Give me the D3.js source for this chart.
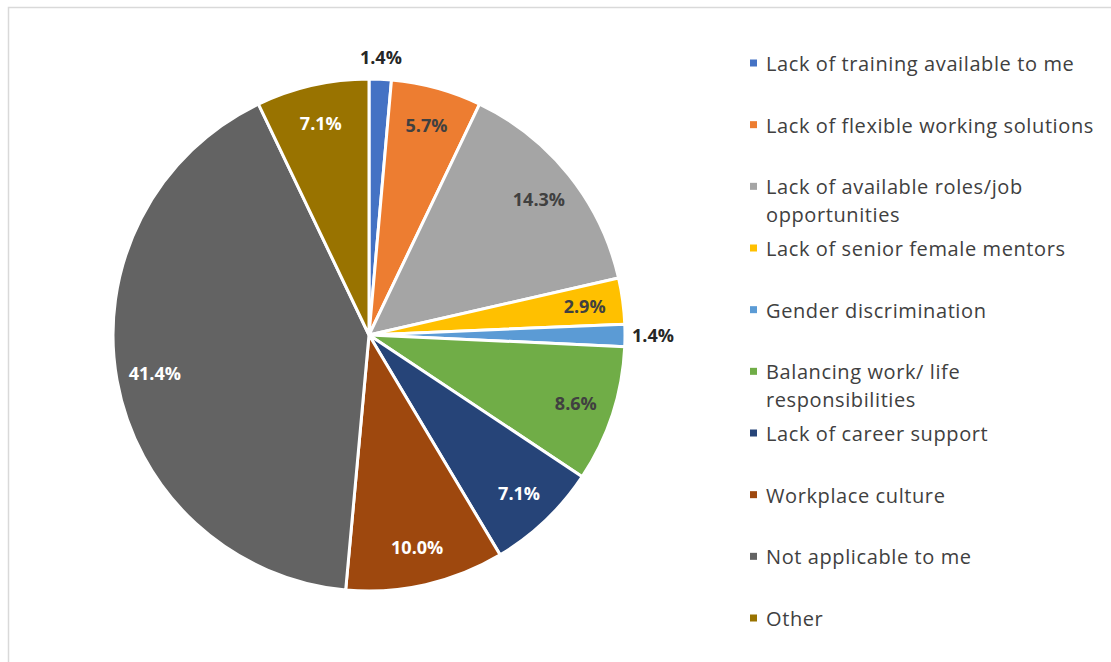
<!DOCTYPE html>
<meta charset="utf-8">
<style>
body { margin: 0; background: #fff; }
text { font-family: "Open Sans", Lato, sans-serif; }
</style>
<svg width="1111" height="662"></svg>
<script src="https://d3js.org/d3.v7.min.js"></script>
<script>

var categories = ["Lack of training available to me", "Lack of flexible working solutions",
  "Lack of available roles/job opportunities", "Lack of senior female mentors",
  "Gender discrimination", "Balancing work/ life responsibilities", "Lack of career support",
  "Workplace culture", "Not applicable to me", "Other"];
// legend lines (wrapped as in the original)
var legendLines = [["Lack of training available to me"], ["Lack of flexible working solutions"],
  ["Lack of available roles/job", "opportunities"], ["Lack of senior female mentors"],
  ["Gender discrimination"], ["Balancing work/ life", "responsibilities"], ["Lack of career support"],
  ["Workplace culture"], ["Not applicable to me"], ["Other"]];
var percents = [1.4, 5.7, 14.3, 2.9, 1.4, 8.6, 7.1, 10.0, 41.4, 7.1];
var colors = ["#4472C4", "#ED7D31", "#A5A5A5", "#FFC000", "#5B9BD5", "#70AD47",
  "#264478", "#9E480E", "#636363", "#997300"];
var labelColors = ["#262626", "#404040", "#404040", "#404040", "#262626", "#404040",
  "#fff", "#fff", "#fff", "#fff"];
var outside = [true, false, false, false, true, false, false, false, false, false];

var svg = d3.select("svg");

// chart border
svg.append("rect")
  .attr("x", 8.5).attr("y", 7.5)
  .attr("width", 1200).attr("height", 700)
  .attr("fill", "none").attr("stroke", "#d9d9d9").attr("stroke-width", 1.5);

var cx = 369, cy = 335, r = 256;

var data = percents.map(function(v, i) { return {name: categories[i], value: v, i: i}; });

var pie = d3.pie().sort(null).value(function(d) { return d.value; });
var arc = d3.arc().innerRadius(0).outerRadius(r);
var labelArc = d3.arc().innerRadius(r * 0.85).outerRadius(r * 0.85);

var g = svg.append("g").attr("transform", "translate(" + cx + "," + cy + ")");
var arcs = pie(data);

g.selectAll("path")
  .data(arcs)
  .enter().append("path")
    .attr("d", arc)
    .attr("fill", function(d) { return colors[d.data.i]; })
    .attr("stroke", "#fff")
    .attr("stroke-width", 3)
    .attr("stroke-linejoin", "round");

g.selectAll("text.lbl")
  .data(arcs)
  .enter().append("text")
    .attr("class", "lbl")
    .attr("font-size", 18)
    .attr("font-weight", "bold")
    .attr("fill", function(d) { return labelColors[d.data.i]; })
    .attr("dominant-baseline", "central")
    .each(function(d) {
      var t = d3.select(this);
      var a = (d.startAngle + d.endAngle) / 2;
      if (outside[d.data.i]) {
        var rr = r + 14;
        var x = Math.sin(a) * rr, y = -Math.cos(a) * rr;
        if (Math.abs(Math.sin(a)) > 0.7) {
          t.attr("x", x - 7).attr("y", y).attr("text-anchor", "start");
        } else {
          t.attr("x", x).attr("y", y - 8).attr("text-anchor", "middle");
        }
      } else {
        var c = labelArc.centroid(d);
        t.attr("x", c[0]).attr("y", c[1]).attr("text-anchor", "middle");
      }
    })
    .text(function(d) { return d.data.value.toFixed(1) + "%"; });

// legend
var legendY = d3.scalePoint().domain(categories).range([63, 618]);

var legend = svg.append("g").selectAll("g")
  .data(data)
  .enter().append("g")
    .attr("transform", function(d) { return "translate(750," + legendY(d.name) + ")"; });

legend.append("rect")
  .attr("x", 0).attr("y", -3.5)
  .attr("width", 7).attr("height", 7)
  .attr("fill", function(d) { return colors[d.i]; });

legend.append("text")
  .attr("x", 16)
  .attr("font-size", 20)
  .attr("letter-spacing", 0.6)
  .attr("fill", "#404040")
  .attr("dominant-baseline", "central")
  .selectAll("tspan")
  .data(function(d) { return legendLines[d.i]; })
  .enter().append("tspan")
    .attr("x", 16)
    .attr("dy", function(d, j) { return j === 0 ? 0 : 28; })
    .text(function(d) { return d; });

</script>
